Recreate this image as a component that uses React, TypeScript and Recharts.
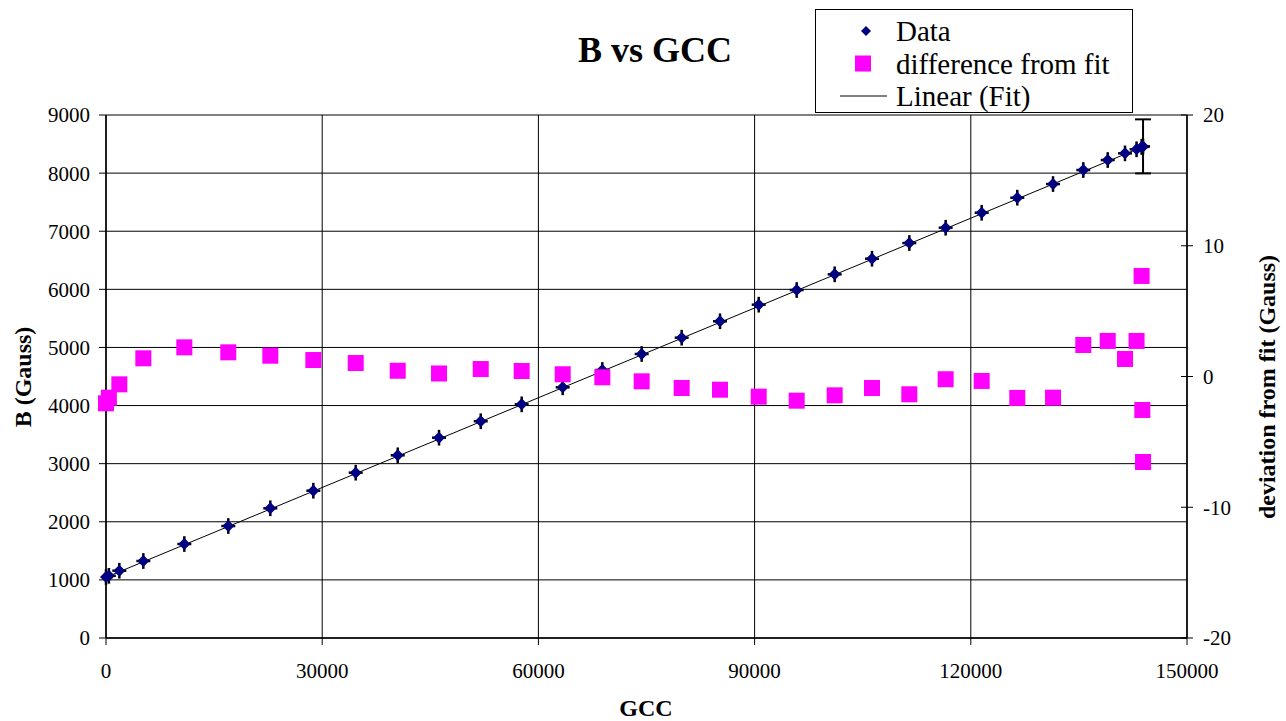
import React from 'react';
import { ScatterChart, Scatter, XAxis, YAxis, CartesianGrid, ErrorBar, Legend } from 'recharts';

// values
const gccValues = [
  0, 400, 1850, 5180, 10870, 16970, 22800, 28770, 34650, 40480, 46210, 52000,
  57680, 63370, 68870, 74330, 79880, 85200, 90570, 95840, 101110, 106290, 111470,
  116510, 121510, 126450, 131410, 135610, 139000, 141400, 143000, 143700, 143800, 143900,
];
const bValues = [
  1050, 1070, 1158, 1325, 1617, 1927, 2232, 2535, 2845, 3144, 3447, 3730,
  4021, 4314, 4612, 4887, 5168, 5450, 5736, 5988, 6258, 6527, 6797,
  7060, 7318, 7577, 7812, 8053, 8225, 8340, 8410, 8450, 8455, 8460,
];
const deviationValues = [
  -2.05, -1.62, -0.6, 1.39, 2.23, 1.85, 1.59, 1.26, 1.03, 0.44, 0.23, 0.57,
  0.42, 0.17, -0.06, -0.37, -0.88, -1.01, -1.54, -1.85, -1.44, -0.88, -1.36,
  -0.21, -0.34, -1.64, -1.62, 2.41, 2.72, 1.34, 2.72, 7.69, -2.56, -6.54,
];
const bError = 135;
const gccError = 970;
const lastBError = 465;

const fitGcc = [0, 143900];
const fitB = [1045, 8455];

const xTicks = [0, 30000, 60000, 90000, 120000, 150000];
const leftTicks = [0, 1000, 2000, 3000, 4000, 5000, 6000, 7000, 8000, 9000];
const rightTicks = [-20, -10, 0, 10, 20];

const legendRows = [
  { label: 'Data', kind: 'diamond' },
  { label: 'difference from fit', kind: 'square' },
  { label: 'Linear (Fit)', kind: 'line' },
];

// x error bars are cut at the axis so they do not widen the x domain
const dataRows = gccValues.map((g, i) => ({
  gcc: g,
  b: bValues[i],
  eb: bError,
  eg: [Math.min(gccError, g), gccError],
}));
const devRows = gccValues.map((g, i) => ({ gcc: g, dev: deviationValues[i] }));
const fitRows = fitGcc.map((g, i) => ({ gcc: g, b: fitB[i] }));
const lastRow = [{ ...dataRows[dataRows.length - 1], eb: lastBError }];

const FONT = '"Liberation Serif", "Times New Roman", serif';
const tickStyle = { fontFamily: FONT, fontSize: 21, fill: '#000' };

const Diamond = (props: any) => {
  const { cx, cy } = props;
  if (cx == null || cy == null) return <g />;
  const r = 6;
  return <polygon points={`${cx},${cy - r} ${cx + r},${cy} ${cx},${cy + r} ${cx - r},${cy}`} fill="#000080" />;
};

const Square = (props: any) => {
  const { cx, cy } = props;
  if (cx == null || cy == null) return <g />;
  return <rect x={cx - 8} y={cy - 8} width={16} height={16} fill="#FF00FF" />;
};

const Nothing = () => <g />;

const RightTick = (props: any) => {
  const { x, y, payload } = props;
  return (
    <g>
      <line x1={x - 22} x2={x - 10} y1={y} y2={y} stroke="#000" strokeWidth={1} />
      <text x={x} y={y} dy="0.35em" textAnchor="start" style={tickStyle}>
        {payload.value}
      </text>
    </g>
  );
};

const LegendBox = () => (
  <svg width={318} height={104} style={{ display: 'block' }}>
    <rect x={0.5} y={0.5} width={317} height={103} fill="#fff" stroke="#000" strokeWidth={1} />
    {legendRows.map((row, i) => {
      const cy = 22 + i * 32.5;
      let marker = null;
      if (row.kind === 'diamond') {
        marker = <polygon points={`51,${cy - 5} 56,${cy} 51,${cy + 5} 46,${cy}`} fill="#000080" />;
      } else if (row.kind === 'square') {
        marker = <rect x={40} y={cy - 8} width={16} height={16} fill="#FF00FF" />;
      } else {
        marker = <line x1={25} x2={72} y1={cy} y2={cy} stroke="#000" strokeWidth={1} />;
      }
      return (
        <g key={row.label}>
          {marker}
          <text x={81} y={cy} dy="0.35em" style={{ fontFamily: FONT, fontSize: 29, fill: '#000' }}>
            {row.label}
          </text>
        </g>
      );
    })}
  </svg>
);

export default function App() {
  return (
    <div style={{ position: 'absolute', left: 0, top: 0, width: 1286, height: 721, background: '#fff', fontFamily: FONT }}>
      <ScatterChart width={1286} height={721} margin={{ top: 115, right: 0, bottom: 0, left: 0 }}>
        <CartesianGrid yAxisId="left" stroke="#000" strokeWidth={1} />
        <XAxis
          type="number"
          dataKey="gcc"
          domain={[0, 150000]}
          ticks={xTicks}
          height={83}
          tickSize={7}
          tickMargin={18}
          tick={tickStyle}
          axisLine={{ stroke: '#000', strokeWidth: 1.5 }}
          tickLine={{ stroke: '#000' }}
        />
        <YAxis
          yAxisId="left"
          type="number"
          dataKey="b"
          domain={[0, 9000]}
          ticks={leftTicks}
          width={106}
          tickSize={7}
          tickMargin={9}
          tick={tickStyle}
          axisLine={{ stroke: '#000', strokeWidth: 1.5 }}
          tickLine={{ stroke: '#000' }}
        />
        <YAxis
          yAxisId="right"
          orientation="right"
          type="number"
          dataKey="dev"
          domain={[-20, 20]}
          ticks={rightTicks}
          width={99}
          tickSize={6}
          tickMargin={10}
          tickLine={false}
          tick={<RightTick />}
          axisLine={{ stroke: '#000', strokeWidth: 1.5 }}
        />
        <Legend
          layout="vertical"
          align="center"
          verticalAlign="middle"
          wrapperStyle={{ position: 'absolute', left: 815, top: 9, width: 318, height: 104 }}
          content={() => <LegendBox />}
        />
        <Scatter
          name="Linear (Fit)"
          yAxisId="left"
          data={fitRows}
          dataKey="b"
          line={{ stroke: '#000', strokeWidth: 1 }}
          shape={Nothing}
          isAnimationActive={false}
        />
        <Scatter name="Data" yAxisId="left" data={dataRows} dataKey="b" shape={Diamond} isAnimationActive={false}>
          <ErrorBar dataKey="eb" direction="y" width={0} stroke="#000" strokeWidth={2.5} isAnimationActive={false} />
          <ErrorBar dataKey="eg" direction="x" width={0} stroke="#000" strokeWidth={2.5} isAnimationActive={false} />
        </Scatter>
        <Scatter yAxisId="left" data={lastRow} dataKey="b" shape={Nothing} legendType="none" isAnimationActive={false}>
          <ErrorBar dataKey="eb" direction="y" width={8} stroke="#000" strokeWidth={2} isAnimationActive={false} />
        </Scatter>
        <Scatter
          name="difference from fit"
          yAxisId="right"
          data={devRows}
          dataKey="dev"
          shape={Square}
          isAnimationActive={false}
        />
      </ScatterChart>
      <div style={{ position: 'absolute', left: 655, top: 50, transform: 'translate(-50%, -50%)', fontSize: 36, fontWeight: 'bold', whiteSpace: 'nowrap' }}>
        B vs GCC
      </div>
      <div style={{ position: 'absolute', left: 23, top: 377, transform: 'translate(-50%, -50%) rotate(-90deg)', fontSize: 24, fontWeight: 'bold', whiteSpace: 'nowrap' }}>
        B (Gauss)
      </div>
      <div style={{ position: 'absolute', left: 1267, top: 387, transform: 'translate(-50%, -50%) rotate(-90deg)', fontSize: 24, fontWeight: 'bold', whiteSpace: 'nowrap' }}>
        deviation from fit (Gauss)
      </div>
      <div style={{ position: 'absolute', left: 646, top: 708, transform: 'translate(-50%, -50%)', fontSize: 24, fontWeight: 'bold', whiteSpace: 'nowrap' }}>
        GCC
      </div>
    </div>
  );
}
